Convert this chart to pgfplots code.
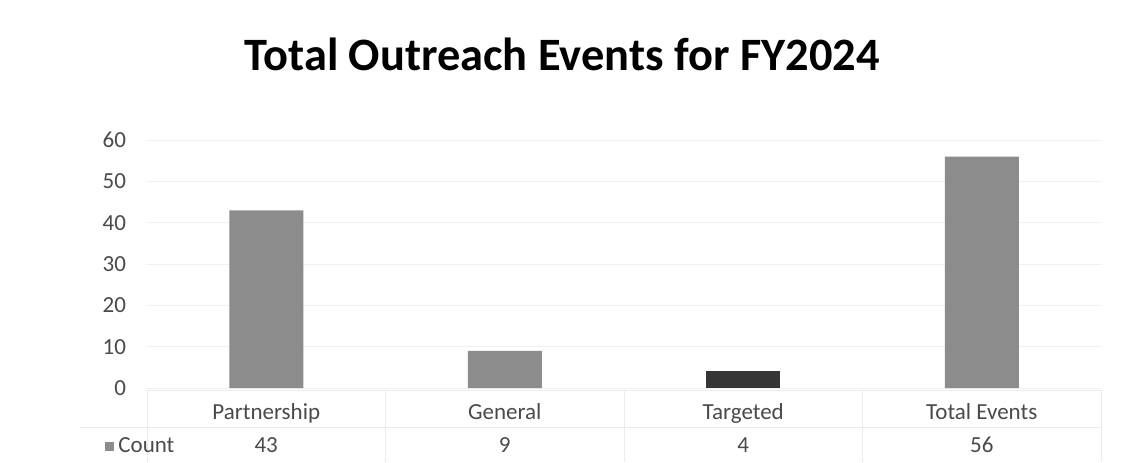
\documentclass[border=0pt]{standalone}
\usepackage{pgfplots}
\pgfplotsset{compat=1.18}
\usepackage{fontspec}
\setmainfont{Carlito}
\definecolor{barg}{HTML}{8C8C8C}
\definecolor{bard}{HTML}{353535}
\definecolor{txt}{HTML}{4A4A4A}
\definecolor{gridc}{HTML}{F0F0F0}
\definecolor{tabc}{HTML}{EBEBEB}
\begin{document}
\begin{tikzpicture}[x=1pt,y=1pt]
\useasboundingbox (0,0) rectangle (561,231);
\fill[white] (0,0) rectangle (561,231);
\node[font=\fontsize{23.2}{28}\selectfont\bfseries, text=black] at (281,204) {Total Outreach Events for FY2024};
\begin{axis}[
  at={(73.5pt,37pt)}, anchor=south west,
  width=477pt, height=124pt, scale only axis,
  xmin=-0.5, xmax=3.5, ymin=0, ymax=60,
  ytick={0,10,...,60},
  xtick={0,1,2,3},
  xticklabels={Partnership,General,Targeted,Total Events},
  axis line style={draw=none},
  tick style={draw=none},
  ymajorgrids=true, xmajorgrids=false,
  y grid style={draw=gridc, line width=0.5pt},
  /pgf/number format/assume math mode=true,
  ticklabel style={font=\fontsize{11.5}{13}\selectfont, text=txt},
  yticklabel style={xshift=-7pt},
  clip=false,
  ybar, bar width=37pt,
]
\addplot[fill=barg, draw=none, bar shift=0pt] coordinates {(0,43) (1,9) (3,56)};
\addplot[fill=bard, draw=none, bar shift=0pt] coordinates {(2,4)};
\end{axis}
% data table row
\draw[tabc, line width=0.5pt] (73.5,36) -- (550.5,36);
\draw[tabc, line width=0.5pt] (40,17.5) -- (550.5,17.5);
\foreach \x in {73.5,192.75,312,431.25,550.5} \draw[tabc, line width=0.5pt] (\x,36) -- (\x,0);
\fill[barg] (52.5,5.5) rectangle (57,10);
\node[anchor=west, font=\fontsize{11.5}{13}\selectfont, text=txt, inner sep=0pt] at (59,8.5) {Count};
\node[font=\fontsize{11.5}{13}\selectfont, text=txt] at (133.1,8.5) {43};
\node[font=\fontsize{11.5}{13}\selectfont, text=txt] at (252.4,8.5) {9};
\node[font=\fontsize{11.5}{13}\selectfont, text=txt] at (371.6,8.5) {4};
\node[font=\fontsize{11.5}{13}\selectfont, text=txt] at (490.9,8.5) {56};
\end{tikzpicture}
\end{document}
